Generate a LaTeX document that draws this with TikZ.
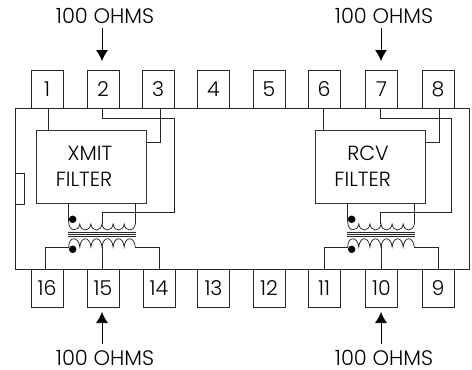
\documentclass[tikz,border=0pt]{standalone}
\usepackage{fontspec}
\setmainfont{Poppins Light}
\usetikzlibrary{arrows.meta}
\tikzset{
  pin/.style={draw=black!85,line width=0.8pt,minimum width=32pt,minimum height=38pt,inner sep=0pt,font=\fontsize{20.5}{20.5}\selectfont},
  filt/.style={draw=black!80,line width=0.8pt,minimum width=110pt,minimum height=73pt,inner sep=0pt,align=center,font=\fontsize{20.5}{26}\selectfont},
  wire/.style={draw=black!85,line width=0.75pt},
  lab/.style={inner sep=0pt,font=\fontsize{21}{21}\selectfont},
  arr/.style={draw=black,line width=0.75pt,-{Latex[length=11pt,width=12pt]}},
  dotn/.style={circle,fill=black,inner sep=0pt,minimum size=7.5pt}
}
\newcommand{\coilup}[1]{%
 \draw[wire] (#1,222) .. controls (#1,232) and (#1+10,232) .. (#1+11.1,224)
 \foreach \i in {1,...,5}{ .. controls (#1+\i*11.1+1,232) and (#1+\i*11.1+10,232) .. (#1+\i*11.1+11.1,224)};}
\newcommand{\coildown}[1]{%
 \draw[wire] (#1,247) .. controls (#1,236) and (#1+10,236) .. (#1+11.1,247)
 \foreach \i in {1,...,5}{ .. controls (#1+\i*11.1+1,236) and (#1+\i*11.1+10,236) .. (#1+\i*11.1+11.1,247)};}
\begin{document}
\begin{tikzpicture}[x=1pt,y=-1pt]
\useasboundingbox (0,0) rectangle (472,370);
\draw[draw=black!85,line width=0.8pt] (15.5,108) rectangle (469,269);
\draw[draw=black!85,line width=0.8pt] (15.5,173) rectangle (24,204);
\foreach \n/\x in {1/47,2/103,3/158,4/213.5,5/269,6/324,7/381.5,8/438}
  \node[pin] (p\n) at (\x,89.5) {\n};
\foreach \n/\x in {16/47,15/103,14/159,13/213.5,12/269,11/324,10/381.5,9/438}
  \node[pin] (p\n) at (\x,288) {\n};
\node[filt] (xf) at (91,166.5) {XMIT\hspace*{2pt}\\FILTER\hspace*{14pt}};
\node[filt] (rf) at (370,166.5) {RCV\hspace*{4pt}\\FILTER\hspace*{14.6pt}};
\node[lab] (lt1) at (105,16) {100 OHMS};
\node[lab] (lt2) at (384,16) {100 OHMS};
\node[lab] (lb1) at (105,358) {100 OHMS};
\node[lab] (lb2) at (384,358) {100 OHMS};
\coordinate (at1) at (102,28); \coordinate (ah1) at (102,61);
\coordinate (at2) at (381,28); \coordinate (ah2) at (381,61);
\coordinate (ab1) at (102,344); \coordinate (ai1) at (102,312);
\coordinate (ab2) at (381,344); \coordinate (ai2) at (381,312);
\draw[arr] (at1) -- (ah1);
\draw[arr] (at2) -- (ah2);
\draw[arr] (ab1) -- (ai1);
\draw[arr] (ab2) -- (ai2);
% left channel
\draw[wire] (48,108) -- (48,130);
\draw[wire] (160.5,108) -- (160.5,142) -- (146,142);
\draw[wire] (102.5,108) -- (102.5,118) -- (174,118) -- (174,212) -- (102.5,212) -- (102.5,224);
\draw[wire] (68.7,203) -- (68.7,222);
\draw[wire] (135.3,203) -- (135.3,224);
\coilup{68.7}
\foreach \y in {232.3,234.3,236.3} \draw[wire] (68,\y) -- (136,\y);
\coildown{68.7}
\draw[wire] (68.7,247) -- (45,247) -- (45,269);
\draw[wire] (102,246) -- (102,269);
\draw[wire] (135.3,247) -- (159,247) -- (159,269);
\node[dotn] (d1) at (72.7,219.3) {};
\node[dotn] (d2) at (72.7,249.3) {};
% right channel
\draw[wire] (323.5,108) -- (323.5,130);
\draw[wire] (439,108) -- (439,142) -- (425,142);
\draw[wire] (380.7,108) -- (380.7,118) -- (451.5,118) -- (451.5,212) -- (380.7,212) -- (380.7,224);
\draw[wire] (347.7,203) -- (347.7,222);
\draw[wire] (414.3,203) -- (414.3,224);
\coilup{347.7}
\foreach \y in {232.3,234.3,236.3} \draw[wire] (347,\y) -- (415,\y);
\coildown{347.7}
\draw[wire] (347.7,247) -- (324,247) -- (324,269);
\draw[wire] (381,246) -- (381,269);
\draw[wire] (414.3,247) -- (438,247) -- (438,269);
\node[dotn] (d3) at (351.7,219.3) {};
\node[dotn] (d4) at (351.7,249.3) {};
\end{tikzpicture}
\end{document}
